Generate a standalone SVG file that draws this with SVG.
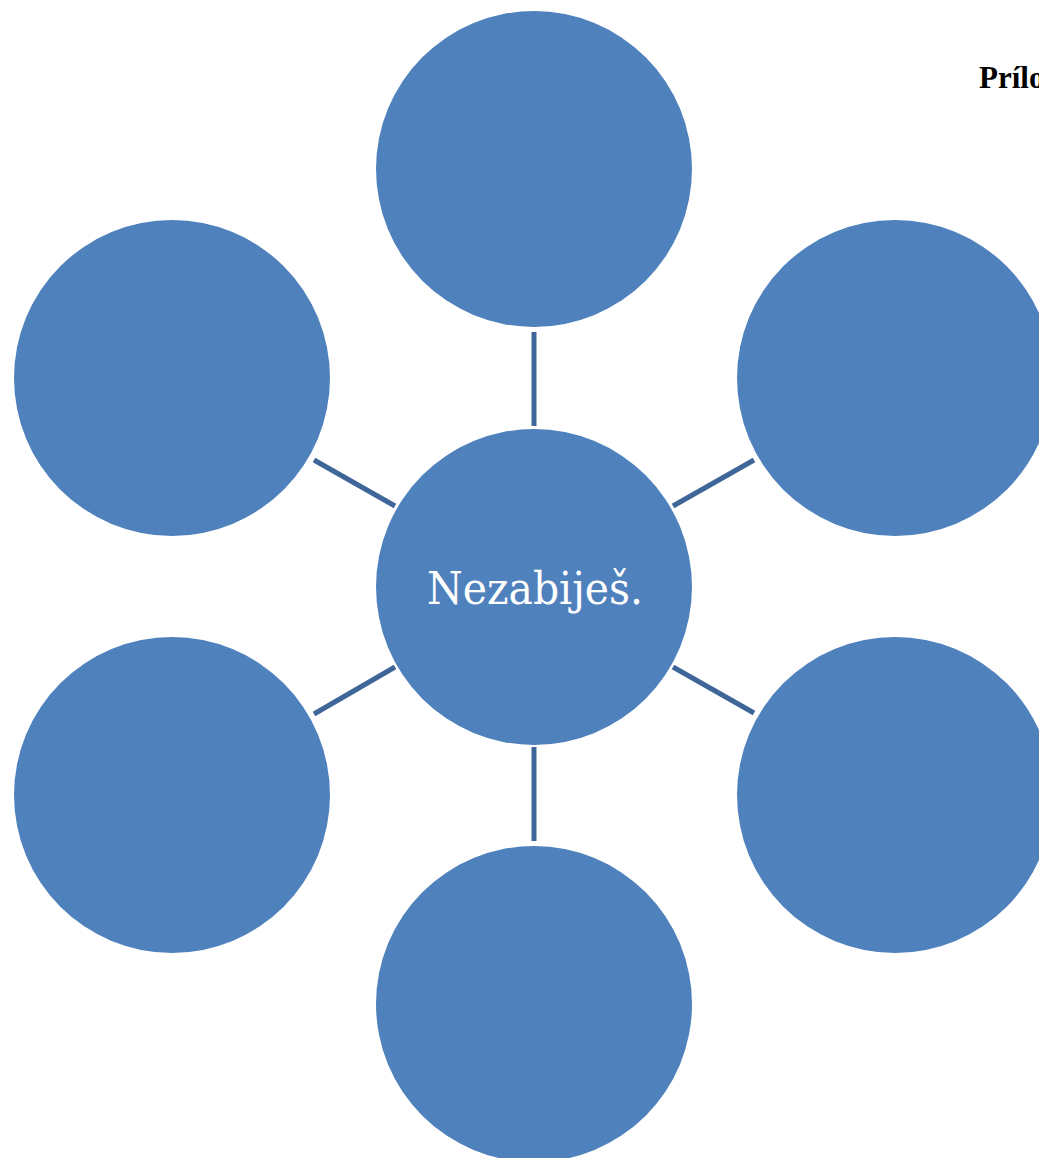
<svg xmlns="http://www.w3.org/2000/svg" width="1039" height="1158" viewBox="0 0 1039 1158">
<style>
.n{fill:#4F81BD}
.c{stroke:#3F6699;stroke-width:5;fill:none}
.t{font-family:"DejaVu Serif","Liberation Serif",serif;fill:#fff}
.h{font-family:"Liberation Serif",serif;font-weight:bold;font-size:31px;fill:#000}
</style>
<rect width="1039" height="1158" fill="#fff"/>
<text class="h" x="979" y="88">Príloha</text>
<g id="connectors">
<line class="c" x1="534" y1="332" x2="534" y2="426"/>
<line class="c" x1="534" y1="747" x2="534" y2="841"/>
<line class="c" x1="314" y1="460" x2="395" y2="506"/>
<line class="c" x1="673" y1="506" x2="754" y2="460"/>
<line class="c" x1="314" y1="714" x2="395" y2="667"/>
<line class="c" x1="673" y1="667" x2="754" y2="713"/>
</g>
<g id="node-top"><circle class="n" cx="534" cy="169" r="158"/></g>
<g id="node-upper-left"><circle class="n" cx="172" cy="378" r="158"/></g>
<g id="node-upper-right"><circle class="n" cx="895" cy="378" r="158"/></g>
<g id="node-lower-left"><circle class="n" cx="172" cy="795" r="158"/></g>
<g id="node-lower-right"><circle class="n" cx="895" cy="795" r="158"/></g>
<g id="node-bottom"><circle class="n" cx="534" cy="1004" r="158"/></g>
<g id="node-center"><circle class="n" cx="534" cy="587" r="158"/>
<text class="t" x="535" y="604" font-size="44" text-anchor="middle" textLength="216" lengthAdjust="spacingAndGlyphs">Nezabiješ.</text></g>
</svg>
